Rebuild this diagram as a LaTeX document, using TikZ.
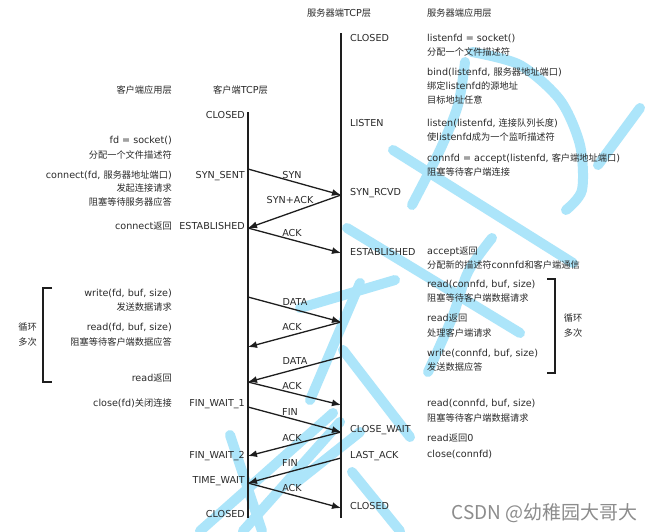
\documentclass[tikz,border=0pt]{standalone}
\usepackage{fontspec}
\setmainfont{DejaVu Sans}
\newfontfamily\cjk[Scale=0.96]{Noto Sans CJK SC}
\newfontfamily\wmfont{Noto Sans CJK SC}
\newcommand\zh[1]{{\cjk #1}}
\usetikzlibrary{arrows.meta}
\definecolor{txtc}{HTML}{2A2A2A}
\definecolor{linec}{HTML}{1E1E1E}
\definecolor{wm}{RGB}{172,229,250}
\definecolor{wmtext}{HTML}{8C8C8C}
\begin{document}
\begin{tikzpicture}[x=1pt,y=-1pt,
  txt/.style={inner sep=0pt,font=\fontsize{9.6}{12}\selectfont,text=txtc},
  lt/.style={txt,anchor=base west},
  rt/.style={txt,anchor=base east},
  ct/.style={txt,anchor=base},
  life/.style={draw=linec,line width=1.6pt},
  msg/.style={draw=linec,line width=1.3pt,-{Latex[length=9pt,width=7pt]}},
  brk/.style={draw=linec,line width=1.3pt},
  wmstroke/.style={draw=wm,line width=10pt,line cap=round,line join=round}]
\useasboundingbox (0,0) rectangle (654,531);
\fill[white] (0,0) rectangle (654,531);
% watermark strokes
\draw[wmstroke] (393,150) -- (573,263);
\draw[wmstroke] plot[smooth] coordinates {(412,205) (440,150) (458,105) (465,62)};
\draw[wmstroke] plot[smooth] coordinates {(472,52) (520,65) (560,100) (580,145) (582,190) (566,210)};
\draw[wmstroke] (640,108) -- (598,165);
\draw[wmstroke] (347,228) -- (520,333);
\draw[wmstroke] plot[smooth] coordinates {(492,238) (468,272) (452,318) (428,372)};
\draw[wmstroke] (300,308) -- (395,280);
\draw[wmstroke] (360,283) -- (310,400);
\draw[wmstroke] (340,422) -- (243,531);
\draw[wmstroke] (360,432) -- (297,482);
\draw[wmstroke] (230,435) -- (262,531);
\draw[wmstroke] (333,413) -- (200,531);
\draw[wmstroke] (343,350) -- (410,437);
\draw[wmstroke] (352,472) -- (400,531);
% lifelines
\coordinate (ctop) at (248,112);
\coordinate (cbot) at (248,518);
\coordinate (stop) at (341,33);
\coordinate (sbot) at (341,518);
\draw[life] (ctop) -- (cbot);
\draw[life] (stop) -- (sbot);
% message end points
\coordinate (c1) at (248,169);  \coordinate (s1) at (341,195);
\coordinate (c2) at (248,228);  \coordinate (s2) at (341,253);
\coordinate (c3) at (248,297);  \coordinate (s3) at (341,322);
\coordinate (c4) at (248,347);  \coordinate (s4) at (341,357);
\coordinate (c5) at (248,382);  \coordinate (s5) at (341,405);
\coordinate (c6) at (248,407);  \coordinate (s6) at (341,432);
\coordinate (c7) at (248,456);  \coordinate (s7) at (341,458);
\coordinate (c8) at (248,483);  \coordinate (s8) at (341,508);
\draw[msg] (c1) -- (s1);
\draw[msg] (s1) -- (c2);
\draw[msg] (c2) -- (s2);
\draw[msg] (c3) -- (s3);
\draw[msg] (s3) -- (c4);
\draw[msg] (s4) -- (c5);
\draw[msg] (c5) -- (s5);
\draw[msg] (c6) -- (s6);
\draw[msg] (s6) -- (c7);
\draw[msg] (s7) -- (c8);
\draw[msg] (c8) -- (s8);
% message labels
\node[ct] (m1) at (292,178.5) {SYN};
\node[ct] (m2) at (290,203.5) {SYN+ACK};
\node[ct] (m3) at (292,236.5) {ACK};
\node[ct] (m4) at (295,305.5) {DATA};
\node[ct] (m5) at (292,330.5) {ACK};
\node[ct] (m6) at (295,364.5) {DATA};
\node[ct] (m7) at (292,389.5) {ACK};
\node[ct] (m8) at (290,415.5) {FIN};
\node[ct] (m9) at (292,441.5) {ACK};
\node[ct] (m10) at (290,466.5) {FIN};
\node[ct] (m11) at (292,491.5) {ACK};
% headers
\node[lt] (h1) at (307,16.5) {\zh{服务器端}TCP\zh{层}};
\node[lt] (h2) at (427,16.5) {\zh{服务器端应用层}};
\node[rt] (h3) at (172,93.5) {\zh{客户端应用层}};
\node[lt] (h4) at (213,93.5) {\zh{客户端}TCP\zh{层}};
% client states
\node[rt] (cs1) at (245,118.5) {CLOSED};
\node[rt] (cs2) at (245,178.5) {SYN\_SENT};
\node[rt] (cs3) at (245,229.5) {ESTABLISHED};
\node[rt] (cs4) at (245,406.5) {FIN\_WAIT\_1};
\node[rt] (cs5) at (245,458.5) {FIN\_WAIT\_2};
\node[rt] (cs6) at (245,483.5) {TIME\_WAIT};
\node[rt] (cs7) at (245,517.5) {CLOSED};
% server states
\node[lt] (ss1) at (350,41.5) {CLOSED};
\node[lt] (ss2) at (350,126.5) {LISTEN};
\node[lt] (ss3) at (350,195.5) {SYN\_RCVD};
\node[lt] (ss4) at (350,255.5) {ESTABLISHED};
\node[lt] (ss5) at (350,432.5) {CLOSE\_WAIT};
\node[lt] (ss6) at (350,458.5) {LAST\_ACK};
\node[lt] (ss7) at (350,509.5) {CLOSED};
% client application
\node[rt] (ca1) at (172,143.5) {fd = socket()};
\node[rt] (ca2) at (172,158.5) {\zh{分配一个文件描述符}};
\node[rt] (ca3) at (172,178.5) {connect(fd, \zh{服务器地址端口})};
\node[rt] (ca4) at (172,191.5) {\zh{发起连接请求}};
\node[rt] (ca5) at (172,205.5) {\zh{阻塞等待服务器应答}};
\node[rt] (ca6) at (172,229.5) {connect\zh{返回}};
\node[rt] (ca7) at (172,296.5) {write(fd, buf, size)};
\node[rt] (ca8) at (172,310.5) {\zh{发送数据请求}};
\node[rt] (ca9) at (172,330.5) {read(fd, buf, size)};
\node[rt] (ca10) at (172,345.5) {\zh{阻塞等待客户端数据应答}};
\node[rt] (ca11) at (172,381.5) {read\zh{返回}};
\node[rt] (ca12) at (172,406.5) {close(fd)\zh{关闭连接}};
% server application
\node[lt] (sa1) at (427,41.5) {listenfd = socket()};
\node[lt] (sa2) at (427,55.5) {\zh{分配一个文件描述符}};
\node[lt] (sa3) at (427,75.5) {bind(listenfd, \zh{服务器地址端口})};
\node[lt] (sa4) at (427,89.5) {\zh{绑定}listenfd\zh{的源地址}};
\node[lt] (sa5) at (427,103.5) {\zh{目标地址任意}};
\node[lt] (sa6) at (427,126.5) {listen(listenfd, \zh{连接队列长度})};
\node[lt] (sa7) at (427,140.5) {\zh{使}listenfd\zh{成为一个监听描述符}};
\node[lt] (sa8) at (427,161.5) {connfd = accept(listenfd, \zh{客户端地址端口})};
\node[lt] (sa9) at (427,175.5) {\zh{阻塞等待客户端连接}};
\node[lt] (sa10) at (427,254.5) {accept\zh{返回}};
\node[lt] (sa11) at (427,268.5) {\zh{分配新的描述符}connfd\zh{和客户端通信}};
\node[lt] (sa12) at (427,287.5) {read(connfd, buf, size)};
\node[lt] (sa13) at (427,301.5) {\zh{阻塞等待客户端数据请求}};
\node[lt] (sa14) at (427,321.5) {read\zh{返回}};
\node[lt] (sa15) at (427,336.5) {\zh{处理客户端请求}};
\node[lt] (sa16) at (427,356.5) {write(connfd, buf, size)};
\node[lt] (sa17) at (427,370.5) {\zh{发送数据应答}};
\node[lt] (sa18) at (427,406.5) {read(connfd, buf, size)};
\node[lt] (sa19) at (427,421.5) {\zh{阻塞等待客户端数据请求}};
\node[lt] (sa20) at (427,441.5) {read\zh{返回}0};
\node[lt] (sa21) at (427,457.5) {close(connfd)};
% brackets
\draw[brk] (52,288) -- (43,288) -- (43,382) -- (52,382);
\draw[brk] (547,279) -- (555,279) -- (555,373) -- (547,373);
\node[ct] (lb1) at (27.5,330.5) {\zh{循环}};
\node[ct] (lb2) at (27.5,345.5) {\zh{多次}};
\node[ct] (rb1) at (573,321.5) {\zh{循环}};
\node[ct] (rb2) at (573,336.5) {\zh{多次}};
% CSDN watermark
\node[inner sep=0pt,anchor=base east,text=wmtext,font=\wmfont\fontsize{19}{22}\selectfont] (csdn) at (638,519) {CSDN @幼稚园大哥大};
\end{tikzpicture}
\end{document}
